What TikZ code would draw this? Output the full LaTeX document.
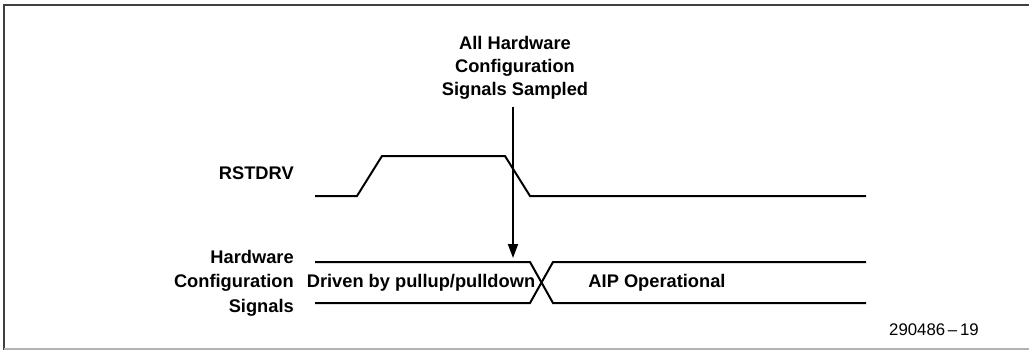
\documentclass[tikz,border=0pt]{standalone}
\usepackage{fontspec}
\setmainfont{Liberation Sans}
\usetikzlibrary{arrows.meta}
\begin{document}
\begin{tikzpicture}[x=0.75pt,y=-0.75pt,
  sig/.style={line width=1.5pt, line join=miter, line cap=butt},
  framedark/.style={line width=1.1pt, draw=black!75},
  framelight/.style={line width=1.1pt, draw=black!30},
  lbl/.style={font=\fontsize{13.7}{17.4}\selectfont\bfseries, inner sep=0pt},
  lblbus/.style={font=\fontsize{13.7}{18.4}\selectfont\bfseries, inner sep=0pt, align=right},
  numlbl/.style={font=\fontsize{12.6}{14}\selectfont, inner sep=0pt},
  arrowline/.style={line width=1.5pt, -{Triangle[length=10.5pt,width=7.5pt]}, shorten <=5pt}]
\useasboundingbox (0,0) rectangle (1029,350);
% frame
\draw[framedark] (1029,5) -- (4,5) -- (4,350);
\draw[framelight] (4,349) -- (1029,349);

% labels
\node[lbl, align=center] (sampled) at (515,68) {All Hardware\\Configuration\\Signals Sampled};
\node[lbl, anchor=east] (rst) at (294,173) {RSTDRV};
\node[lblbus, anchor=east] (hw) at (294,283) {Hardware\\Configuration\\Signals};
\node[lbl] (driven) at (421,283) {Driven by pullup/pulldown};
\node[lbl] (aip) at (657,283) {AIP Operational};
\node[numlbl] (fig) at (934,330) {290486\,\textendash\,19};

% RSTDRV waveform
\coordinate (r0) at (315,196);
\coordinate (r1) at (357,196);
\coordinate (r2) at (382,156);
\coordinate (r3) at (505,156);
\coordinate (r4) at (530,196);
\coordinate (r5) at (866,196);
\draw[sig] (r0) -- (r1) -- (r2) -- (r3) -- (r4) -- (r5);

% bus waveform
\coordinate (bt0) at (315,262);
\coordinate (bt1) at (530,262);
\coordinate (bt2) at (553,262);
\coordinate (bt3) at (866,262);
\coordinate (bb0) at (315,303);
\coordinate (bb1) at (530,303);
\coordinate (bb2) at (553,303);
\coordinate (bb3) at (866,303);
\draw[sig] (bt0) -- (bt1) -- (bb2) -- (bb3);
\draw[sig] (bb0) -- (bb1) -- (bt2) -- (bt3);

% sampling arrow
\coordinate (atip) at (513,258);
\draw[arrowline] (sampled.south -| atip) -- (atip);
\end{tikzpicture}
\end{document}
